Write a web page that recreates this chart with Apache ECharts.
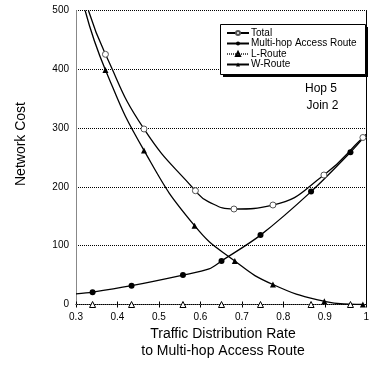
<!DOCTYPE html>
<html>
<head>
<meta charset="utf-8">
<script src="https://cdn.jsdelivr.net/npm/echarts@6/dist/echarts.min.js"></script>
<style>html,body{margin:0;padding:0;background:#fff}#c{width:372px;height:366px}</style>
</head>
<body>
<div id="c"></div>
<script>
// ---- data ----
const seriesNames = ['Total', 'Multi-hop Access Route', 'L-Route', 'W-Route'];
// line-only points (no marker) and marker points, [x, cost]
const totalCurve = [[0.330, 500], [0.619, 175], [1.0, 289]];
const totalMarks = [[0.371, 425.5], [0.464, 298.5], [0.588, 193.5], [0.681, 162.4], [0.775, 169.2], [0.898, 220.2], [0.992, 284]];
const multiCurve = [[0.3, 18], [0.621, 60.5], [1.0, 289]];
const multiMarks = [[0.34, 21], [0.434, 32], [0.558, 50], [0.651, 74], [0.745, 118], [0.867, 192], [0.962, 259]];
const lCurve = [[0.3, 0], [1.0, 0]];
const lMarks = [[0.34, 0], [0.434, 0], [0.558, 0], [0.651, 0], [0.745, 0], [0.867, 0], [0.962, 0]];
const wCurve = [[0.322, 500], [0.96, 0.5]];
const wMarks = [[0.371, 399], [0.464, 262], [0.586, 134], [0.683, 74], [0.775, 34], [0.899, 5.4], [0.992, 0]];
const annotation = ['Hop 5', 'Join 2'];
const xTitle = 'Traffic Distribution Rate\nto Multi-hop Access Route';
const yTitle = 'Network Cost';

function merge(curve, marks) {
  const pts = curve.map(p => ({ value: p, symbol: 'none' }))
    .concat(marks.map(p => ({ value: p })));
  pts.sort((a, b) => a.value[0] - b.value[0]);
  return pts;
}

const FONT = 'Liberation Sans';
const chart = echarts.init(document.getElementById('c'), null, { renderer: 'canvas' });
chart.setOption({
  animation: false,
  textStyle: { fontFamily: FONT },
  grid: { left: 76, right: 2, top: 10.5, bottom: 61.5 },
  xAxis: [{
    type: 'value', min: 0.3, max: 1, interval: 0.1, position: 'bottom',
    axisLine: { show: true, onZero: false, lineStyle: { color: '#999', width: 1 } },
    axisTick: { show: true, inside: true, length: 3, lineStyle: { color: '#000' } },
    axisLabel: { fontSize: 10, color: '#000', margin: 8, fontFamily: FONT },
    splitLine: { show: false }
  }, {
    type: 'value', min: 0.3, max: 1, interval: 0.1, position: 'top',
    axisLine: { show: true, lineStyle: { color: '#000', width: 1 } },
    axisTick: { show: true, inside: true, length: 3, lineStyle: { color: '#000' } },
    axisLabel: { show: false }, splitLine: { show: false }
  }],
  yAxis: [{
    type: 'value', min: 0, max: 500, interval: 100, position: 'left',
    axisLine: { show: true, lineStyle: { color: '#888', width: 1 } },
    axisTick: { show: false },
    axisLabel: { fontSize: 10, color: '#000', margin: 7, fontFamily: FONT },
    splitLine: { show: true, lineStyle: { color: '#000', type: [1, 1], width: 1 } }
  }, {
    type: 'value', min: 0, max: 500, interval: 100, position: 'right',
    axisLine: { show: true, lineStyle: { color: '#000', width: 1 } },
    axisTick: { show: false }, axisLabel: { show: false }, splitLine: { show: false }
  }],
  legend: {
    left: 220, top: 24, orient: 'vertical',
    padding: [4, 10, 5, 6],
    itemWidth: 22, itemHeight: 5, itemGap: 0.5,
    textStyle: { fontSize: 10, color: '#000', lineHeight: 10, fontFamily: FONT, padding: [0, 0, 0, -3] },
    data: seriesNames,
    z: 10
  },
  graphic: [
    { type: 'rect', z: 5, shape: { x: 223, y: 27, width: 145, height: 50 }, style: { fill: '#000' } },
    { type: 'rect', z: 6, shape: { x: 220.5, y: 24.5, width: 145, height: 50 }, style: { fill: '#fff', stroke: '#000', lineWidth: 1 } },
    { type: 'text', z: 6, x: 305, y: 83, style: { text: annotation[0], font: '12px "Liberation Sans"', fill: '#000' } },
    { type: 'text', z: 6, x: 306.5, y: 100, style: { text: annotation[1], font: '12px "Liberation Sans"', fill: '#000' } },
    { type: 'text', z: 6, x: 223, y: 326, style: { text: xTitle, font: '14px "Liberation Sans"', fill: '#000', align: 'center', lineHeight: 17 } },
    { type: 'text', z: 6, x: 21, y: 144, rotation: Math.PI / 2, style: { text: yTitle, font: '14px "Liberation Sans"', fill: '#000', align: 'center', verticalAlign: 'middle' } }
  ],
  series: [
    {
      name: seriesNames[0], type: 'line', data: merge(totalCurve, totalMarks),
      smooth: 0.5, symbol: 'circle', symbolSize: 6,
      lineStyle: { color: '#000', width: 1.3 },
      itemStyle: { color: '#fff', borderColor: '#555', borderWidth: 1 }, z: 3
    },
    {
      name: seriesNames[1], type: 'line', data: merge(multiCurve, multiMarks),
      smooth: 0.3, symbol: 'circle', symbolSize: 6,
      lineStyle: { color: '#000', width: 1.3 },
      itemStyle: { color: '#000', borderColor: '#000', borderWidth: 0 }, z: 3
    },
    {
      name: seriesNames[2], type: 'line', data: merge(lCurve, lMarks),
      symbol: 'triangle', symbolSize: 6,
      lineStyle: { color: '#555', width: 1, type: [1, 1] },
      itemStyle: { color: '#fff', borderColor: '#000', borderWidth: 1 }, z: 3
    },
    {
      name: seriesNames[3], type: 'line', data: merge(wCurve, wMarks),
      smooth: 0.5, symbol: 'triangle', symbolSize: 6,
      lineStyle: { color: '#000', width: 1.3 },
      itemStyle: { color: '#000', borderColor: '#000', borderWidth: 0 }, z: 3
    }
  ]
});
</script>
</body>
</html>
